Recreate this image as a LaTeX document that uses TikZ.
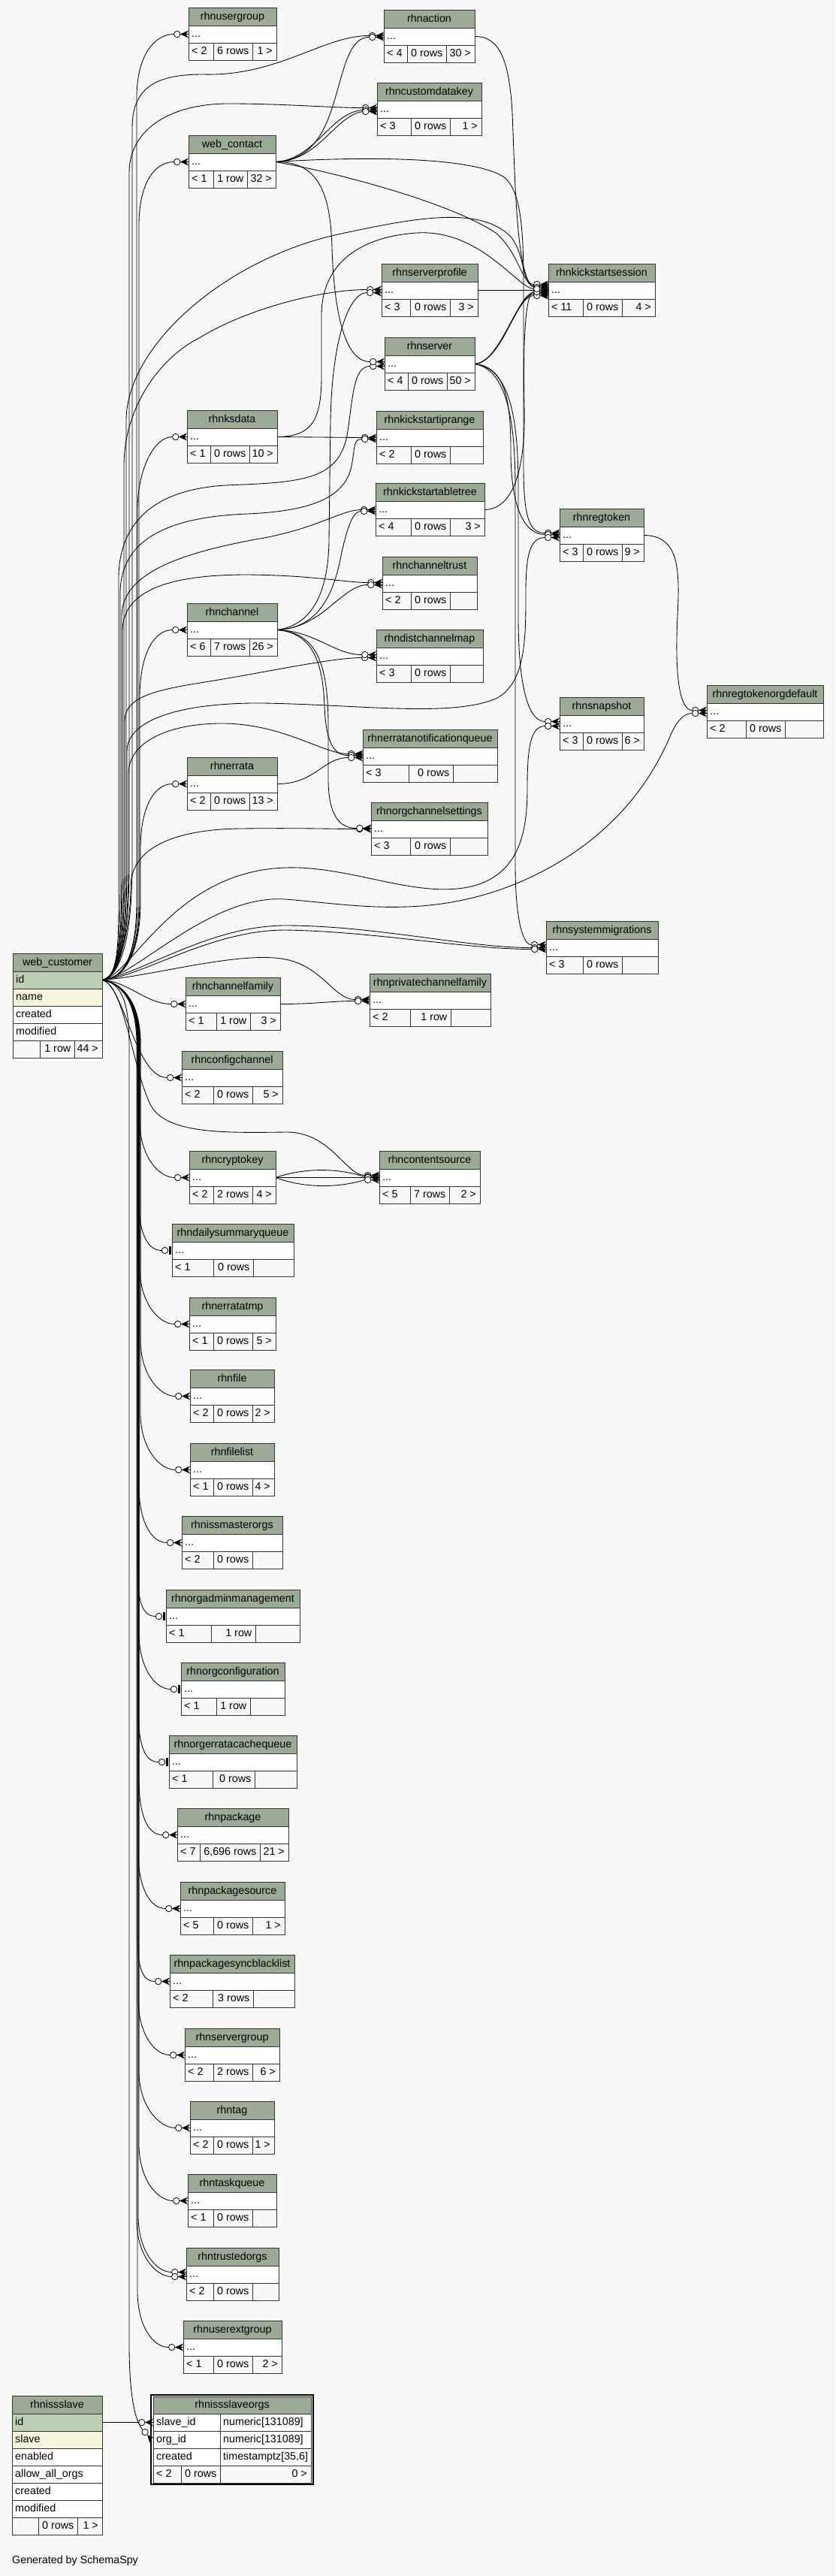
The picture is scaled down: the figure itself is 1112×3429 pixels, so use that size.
\documentclass[tikz,border=0pt]{standalone}
\usepackage{fontspec}
\setmainfont{Liberation Sans}
\definecolor{bgc}{HTML}{F7F7F7}
\definecolor{hdrc}{HTML}{9BAB96}
\definecolor{pkc}{HTML}{BED1B8}
\definecolor{idxc}{HTML}{F5F5DC}
\definecolor{tbc}{HTML}{333333}
\pgfdeclarelayer{back}
\pgfdeclarelayer{edges}
\pgfsetlayers{back,edges,main}
\newcommand\tf{\fontsize{14.3}{16}\selectfont}
\tikzset{
 box/.style={draw=tbc, line width=1pt, inner sep=0pt, outer sep=0pt, anchor=north west},
 txt/.style={inner sep=0pt, font=\tf, text=black},
 fk/.style={draw=black, line width=0.85pt},
}
\def\splitd#1,#2\relax{\def\dA{#1}\def\dB{#2}}
\newcommand\foot[9]{%
 \draw[draw=tbc, line width=1pt, fill=bgc] (#1,#2) rectangle (#3,#2+23);
 \draw[draw=tbc, line width=1pt] (#4,#2) -- (#4,#2+23) (#5,#2) -- (#5,#2+23);
 \node[txt, anchor=base west] (#9-fl) at (#1+4,#2+15.8) {#6};
 \node[txt, anchor=base east] (#9-fm) at (#5-4.5,#2+15.8) {#7};
 \node[txt, anchor=base east] (#9-fr) at (#3-5,#2+15.8) {#8};}
\def\tbl#1#2#3#4#5#6#7#8#9{%
 \splitd#6\relax
 \pgfmathsetmacro\tw{#4-#2}%
 \node[box, fill=hdrc, minimum width=\tw pt, minimum height=24pt] (#1-h) at (#2,#3) {};
 \node[txt, anchor=base] (#1-t) at ([yshift=-4.3pt]#1-h.center) {#5};
 \node[box, fill=white, minimum width=\tw pt, minimum height=23pt] (#1-r) at (#1-h.south west) {};
 \node[txt, anchor=base west] (#1-d) at ([xshift=4pt,yshift=-4.3pt]#1-r.west) {...};
 \foot{#2}{#3+47}{#4}{\dA}{\dB}{#7}{#8}{#9}{#1}}
\newcommand\frow[5]{%
 \node[box, fill=#3, minimum width=#5pt, minimum height=23pt] (#1) at (#2.south west) {};
 \node[txt, anchor=base west] (#1-x) at ([xshift=4pt,yshift=-4.3pt]#1.west) {#4};}
\newcommand\tcell[3]{%
 \node[box, fill=white, minimum width=121pt, minimum height=23pt] (#1) at (#2.north east) {};
 \node[txt, anchor=base west] (#1-x) at ([xshift=4pt,yshift=-4.3pt]#1.west) {#3};}
\newcommand\mk[3]{%
 \coordinate (#1) at ([xshift=-19.5pt,yshift=#3pt]#2.west);
 \begin{scope}[shift={([yshift=#3pt]#2.west)}]
  \fill[black] (-11,0) -- (0,5) -- (-3.5,0) -- (0,-5) -- cycle;
  \draw[black, line width=0.7pt] (-11,0) -- (0,0);
  \draw[black, fill=white, line width=0.8pt] (-15.3,0) circle[radius=4.2pt];
 \end{scope}}
\newcommand\mkt[3]{%
 \coordinate (#1) at ([xshift=-13.7pt,yshift=#3pt]#2.west);
 \begin{scope}[shift={([yshift=#3pt]#2.west)}]
  \fill[black] (-3.8,-5.5) rectangle (-0.6,5.5);
  \draw[black, fill=white, line width=0.8pt] (-9.5,0) circle[radius=4.2pt];
 \end{scope}}
\newcommand\dn[3]{\draw[fk] (wc-id.east) .. controls (160,1308) and (#2,1330) .. (#2,1390) -- (#2,#3-75) .. controls (#2,#3-30) and ([xshift=-22pt]#1) .. (#1);}
\begin{document}
\begin{tikzpicture}[x=1pt,y=-1pt]
\useasboundingbox (0,0) rectangle (1112,3429);
\begin{pgfonlayer}{back}\fill[bgc] (0,0) rectangle (1112,3429);\end{pgfonlayer}

% ---------- tables ----------
\tbl{usergroup}{251}{10}{368}{rhnusergroup}{284,336}{< 2}{6 rows}{1 >}
\tbl{webcontact}{251}{180}{367}{web\_contact}{284,329}{< 1}{1 row}{32 >}
\tbl{action}{511}{13}{632}{rhnaction}{542,594}{< 4}{0 rows}{30 >}
\tbl{customdatakey}{502}{110}{641}{rhncustomdatakey}{547,599}{< 3}{0 rows}{1 >}
\tbl{serverprofile}{508}{351}{636}{rhnserverprofile}{546,599}{< 3}{0 rows}{3 >}
\tbl{kss}{730}{351}{872}{rhnkickstartsession}{776,828}{< 11}{0 rows}{4 >}
\tbl{server}{512}{449}{632}{rhnserver}{543,595}{< 4}{0 rows}{50 >}
\tbl{ksdata}{249}{546}{369}{rhnksdata}{280,332}{< 1}{0 rows}{10 >}
\tbl{ksiprange}{501}{547}{643}{rhnkickstartiprange}{547,599}{< 2}{0 rows}{}
\tbl{kstree}{500}{643}{645}{rhnkickstartabletree}{547,599}{< 4}{0 rows}{3 >}
\tbl{chtrust}{509}{741}{635}{rhnchanneltrust}{547,599}{< 2}{0 rows}{}
\tbl{channel}{249}{803}{369}{rhnchannel}{280,332}{< 6}{7 rows}{26 >}
\tbl{distchmap}{501}{838}{643}{rhndistchannelmap}{547,599}{< 3}{0 rows}{}
\tbl{regtoken}{745}{677}{857}{rhnregtoken}{776,828}{< 3}{0 rows}{9 >}
\tbl{enq}{483}{971}{662}{rhnerratanotificationqueue}{544,603}{< 3}{0 rows}{}
\tbl{errata}{249}{1008}{369}{rhnerrata}{280,332}{< 2}{0 rows}{13 >}
\tbl{orgchset}{494}{1068}{649}{rhnorgchannelsettings}{546,599}{< 3}{0 rows}{}
\tbl{snapshot}{745}{928}{857}{rhnsnapshot}{776,828}{< 3}{0 rows}{6 >}
\tbl{rtod}{941}{912}{1096}{rhnregtokenorgdefault}{993,1045}{< 2}{0 rows}{}
\tbl{sysmig}{727}{1226}{876}{rhnsystemmigrations}{776,828}{< 3}{0 rows}{}
\tbl{chfamily}{247}{1301}{373}{rhnchannelfamily}{288,333}{< 1}{1 row}{3 >}
\tbl{pcf}{492}{1296}{653}{rhnprivatechannelfamily}{546,600}{< 2}{1 row}{}
\tbl{configch}{242}{1399}{376}{rhnconfigchannel}{284,336}{< 2}{0 rows}{5 >}
\tbl{cryptokey}{252}{1532}{367}{rhncryptokey}{284,336}{< 2}{2 rows}{4 >}
\tbl{contentsrc}{505}{1532}{639}{rhncontentsource}{546,598}{< 5}{7 rows}{2 >}
\tbl{dsq}{229}{1629}{391}{rhndailysummaryqueue}{284,337}{< 1}{0 rows}{}
\tbl{erratatmp}{252}{1727}{367}{rhnerratatmp}{284,336}{< 1}{0 rows}{5 >}
\tbl{file}{253}{1823}{365}{rhnfile}{284,336}{< 2}{0 rows}{2 >}
\tbl{filelist}{253}{1921}{365}{rhnfilelist}{284,336}{< 1}{0 rows}{4 >}
\tbl{issmaster}{242}{2018}{376}{rhnissmasterorgs}{284,336}{< 2}{0 rows}{}
\tbl{orgadmin}{221}{2116}{399}{rhnorgadminmanagement}{281,340}{< 1}{1 row}{}
\tbl{orgconf}{241}{2213}{379}{rhnorgconfiguration}{288,333}{< 1}{1 row}{}
\tbl{oecq}{225}{2310}{395}{rhnorgerratacachequeue}{283,339}{< 1}{0 rows}{}
\tbl{package}{236}{2407}{384}{rhnpackage}{266,346}{< 7}{6,696 rows}{21 >}
\tbl{pkgsrc}{240}{2505}{379}{rhnpackagesource}{284,336}{< 5}{0 rows}{1 >}
\tbl{pkgsbl}{226}{2602}{392}{rhnpackagesyncblacklist}{283,337}{< 2}{3 rows}{}
\tbl{sgroup}{246}{2700}{372}{rhnservergroup}{284,336}{< 2}{2 rows}{6 >}
\tbl{tag}{253}{2797}{365}{rhntag}{284,336}{< 2}{0 rows}{1 >}
\tbl{taskq}{250}{2894}{368}{rhntaskqueue}{284,336}{< 1}{0 rows}{}
\tbl{trusted}{248}{2992}{371}{rhntrustedorgs}{284,336}{< 2}{0 rows}{}
\tbl{userext}{244}{3089}{375}{rhnuserextgroup}{284,336}{< 1}{0 rows}{2 >}

% web_customer
\node[box, fill=hdrc, minimum width=119pt, minimum height=24pt] (wc-h) at (17,1269) {};
\node[txt, anchor=base] (wc-t) at ([yshift=-4.3pt]wc-h.center) {web\_customer};
\frow{wc-id}{wc-h}{pkc}{id}{119}
\frow{wc-name}{wc-id}{idxc}{name}{119}
\frow{wc-created}{wc-name}{white}{created}{119}
\frow{wc-modified}{wc-created}{white}{modified}{119}
\foot{17}{1385}{136}{53}{99}{}{1 row}{44 >}{wc}

% rhnissslave
\node[box, fill=hdrc, minimum width=120pt, minimum height=24pt] (sl-h) at (16,3189) {};
\node[txt, anchor=base] (sl-t) at ([yshift=-4.3pt]sl-h.center) {rhnissslave};
\frow{sl-id}{sl-h}{pkc}{id}{120}
\frow{sl-slave}{sl-id}{idxc}{slave}{120}
\frow{sl-enabled}{sl-slave}{white}{enabled}{120}
\frow{sl-allow}{sl-enabled}{white}{allow\_all\_orgs}{120}
\frow{sl-created}{sl-allow}{white}{created}{120}
\frow{sl-modified}{sl-created}{white}{modified}{120}
\foot{16}{3351}{136}{51}{103}{}{0 rows}{1 >}{sl}

% rhnissslaveorgs
\draw[draw=black, line width=2pt] (201.3,3187.6) rectangle (416.5,3306.5);
\node[box, fill=hdrc, minimum width=210pt, minimum height=23pt] (so-h) at (204,3190) {};
\node[txt, anchor=base] (so-t) at ([yshift=-4.3pt]so-h.center) {rhnissslaveorgs};
\node[box, fill=white, minimum width=89pt, minimum height=23pt] (so-slave) at (so-h.south west) {};
\node[txt, anchor=base west] (so-slave-x) at ([xshift=4pt,yshift=-4.3pt]so-slave.west) {slave\_id};
\tcell{so-slave-ty}{so-slave}{numeric[131089]}
\frow{so-org}{so-slave}{white}{org\_id}{89}
\tcell{so-org-ty}{so-org}{numeric[131089]}
\frow{so-created}{so-org}{white}{created}{89}
\tcell{so-created-ty}{so-created}{timestamptz[35,6]}
\foot{204}{3282}{414}{241}{293}{< 2}{0 rows}{0 >}{so}

\node[txt, anchor=base west] (gen) at (16,3412) {Generated by SchemaSpy};

% ---------- markers ----------
\mk{usergroup-a}{usergroup-r}{0}
\mk{webcontact-a}{webcontact-r}{0}
\mk{action-a}{action-r}{1}
\mk{action-b}{action-r}{-1}
\mk{customdatakey-a}{customdatakey-r}{2}
\mk{customdatakey-b}{customdatakey-r}{-1}
\mk{customdatakey-c}{customdatakey-r}{-3}
\mk{serverprofile-a}{serverprofile-r}{1}
\mk{serverprofile-b}{serverprofile-r}{-3}
\mk{kss-a}{kss-r}{6}
\mk{kss-b}{kss-r}{8}
\mk{kss-c}{kss-r}{4}
\mk{kss-d}{kss-r}{0}
\mk{kss-e}{kss-r}{-3}
\mk{kss-f}{kss-r}{-5}
\mk{kss-g}{kss-r}{-7}
\mk{kss-h}{kss-r}{-2}
\mk{kss-i}{kss-r}{2}
\mk{server-a}{server-r}{-3}
\mk{server-b}{server-r}{3}
\mk{ksdata-a}{ksdata-r}{0}
\mk{ksiprange-a}{ksiprange-r}{0}
\mk{ksiprange-b}{ksiprange-r}{-2}
\mk{kstree-a}{kstree-r}{0}
\mk{kstree-b}{kstree-r}{-2}
\mk{chtrust-a}{chtrust-r}{1}
\mk{chtrust-b}{chtrust-r}{-2}
\mk{channel-a}{channel-r}{0}
\mk{distchmap-a}{distchmap-r}{-2}
\mk{distchmap-b}{distchmap-r}{2}
\mk{regtoken-a}{regtoken-r}{3}
\mk{regtoken-b}{regtoken-r}{1}
\mk{regtoken-c}{regtoken-r}{-3}
\mk{enq-a}{enq-r}{3}
\mk{enq-b}{enq-r}{1}
\mk{enq-c}{enq-r}{-2}
\mk{errata-a}{errata-r}{0}
\mk{orgchset-a}{orgchset-r}{0}
\mk{orgchset-b}{orgchset-r}{1}
\mk{snapshot-a}{snapshot-r}{3}
\mk{snapshot-b}{snapshot-r}{-3}
\mk{rtod-a}{rtod-r}{2}
\mk{rtod-b}{rtod-r}{-2}
\mk{sysmig-a}{sysmig-r}{4}
\mk{sysmig-b}{sysmig-r}{0}
\mk{sysmig-c}{sysmig-r}{-2}
\mk{chfamily-a}{chfamily-r}{0}
\mk{pcf-a}{pcf-r}{1}
\mk{pcf-b}{pcf-r}{-1}
\mk{configch-a}{configch-r}{0}
\mk{cryptokey-a}{cryptokey-r}{0}
\mk{contentsrc-a}{contentsrc-r}{3}
\mk{contentsrc-b}{contentsrc-r}{1}
\mk{contentsrc-c}{contentsrc-r}{0}
\mk{contentsrc-d}{contentsrc-r}{-3}
\mkt{dsq-a}{dsq-r}{0}
\mk{erratatmp-a}{erratatmp-r}{0}
\mk{file-a}{file-r}{0}
\mk{filelist-a}{filelist-r}{0}
\mk{issmaster-a}{issmaster-r}{0}
\mkt{orgadmin-a}{orgadmin-r}{0}
\mkt{orgconf-a}{orgconf-r}{0}
\mkt{oecq-a}{oecq-r}{0}
\mk{package-a}{package-r}{0}
\mk{pkgsrc-a}{pkgsrc-r}{0}
\mk{pkgsbl-a}{pkgsbl-r}{0}
\mk{sgroup-a}{sgroup-r}{0}
\mk{tag-a}{tag-r}{0}
\mk{taskq-a}{taskq-r}{0}
\mk{trusted-a}{trusted-r}{3}
\mk{trusted-b}{trusted-r}{-3}
\mk{userext-a}{userext-r}{0}
\mk{so-sa}{so-slave}{0}
\coordinate (so-oa) at (189.5,3234);
\fill[black] (196,3241) -- (205,3245) -- (200.5,3245.5) -- (199.5,3252) -- cycle;
\draw[black, fill=white, line width=0.8pt] (193,3237.5) circle[radius=4.2pt];

% ---------- edges ----------
\begin{pgfonlayer}{edges}
% web_customer going up
\draw[fk] (wc-id.east) .. controls (165,1304) and (182,1270) .. (182,1200) -- (182,130) .. controls (182,75) and (205,45.5) .. (usergroup-a);
\draw[fk] (wc-id.east) .. controls (165,1304) and (185,1270) .. (185,1200) -- (185,300) .. controls (185,245) and (205,215.5) .. (webcontact-a);
\draw[fk] (wc-id.east) .. controls (160,1300) and (176,1250) .. (176,1150) -- (176,170) .. controls (176,115) and (210,99) .. (270,99) .. controls (370,102) and (430,47.5) .. (action-a);
\draw[fk] (wc-id.east) .. controls (160,1300) and (172,1250) .. (172,1150) -- (172,230) .. controls (172,170) and (230,138) .. (304,138) .. controls (380,138) and (440,143.5) .. (customdatakey-a);
\draw[fk] (wc-id.east) .. controls (160,1300) and (165,1250) .. (165,1150) -- (165,620) .. controls (165,540) and (215,475) .. (265,450) .. controls (330,410) and (430,385.5) .. (serverprofile-a);
\draw[fk] (wc-id.east) .. controls (160,1300) and (168,1250) .. (168,1150) -- (168,560) .. controls (168,460) and (300,345) .. (450,312) .. controls (560,288) and (640,275) .. (680,315) .. controls (700,340) and (695,380.5) .. (kss-a);
\draw[fk] (wc-id.east) .. controls (160,1300) and (158,1250) .. (158,1150) -- (158,770) .. controls (158,700) and (200,652) .. (300,646) .. controls (400,642) and (450,640) .. (462,580) .. controls (470,530) and (470,487.5) .. (server-a);
\draw[fk] (wc-id.east) .. controls (165,1304) and (183,1270) .. (183,1200) -- (183,680) .. controls (183,625) and (205,581.5) .. (ksdata-a);
\draw[fk] (wc-id.east) .. controls (160,1300) and (160,1250) .. (160,1150) -- (160,790) .. controls (160,720) and (220,688) .. (330,684) .. controls (420,680) and (460,660) .. (468,620) .. controls (473,595) and (470,584.5) .. (ksiprange-b);
\draw[fk] (wc-id.east) .. controls (160,1300) and (162,1250) .. (162,1150) -- (162,820) .. controls (162,760) and (250,735) .. (340,718) .. controls (420,705) and (455,678.5) .. (kstree-a);
\draw[fk] (wc-id.east) .. controls (160,1300) and (163,1250) .. (163,1150) -- (163,840) .. controls (163,780) and (240,765) .. (330,765) .. controls (420,766) and (460,775.5) .. (chtrust-a);
\draw[fk] (wc-id.east) .. controls (165,1304) and (186,1270) .. (186,1200) -- (186,930) .. controls (186,870) and (205,838.5) .. (channel-a);
\draw[fk] (wc-id.east) .. controls (160,1300) and (166,1250) .. (166,1150) -- (166,960) .. controls (166,930) and (200,920) .. (260,910) .. controls (350,896) and (440,875.5) .. (distchmap-a);
\draw[fk] (wc-id.east) .. controls (160,1300) and (169,1250) .. (169,1150) -- (169,1000) .. controls (169,955) and (250,935) .. (350,936) .. controls (480,938) and (600,955) .. (660,930) .. controls (700,910) and (700,850) .. (700,790) .. controls (700,740) and (705,715.5) .. (regtoken-c);
\draw[fk] (wc-id.east) .. controls (160,1300) and (171,1250) .. (171,1150) -- (171,1030) .. controls (171,985) and (230,962) .. (300,963) .. controls (380,965) and (430,1003.5) .. (enq-a);
\draw[fk] (wc-id.east) .. controls (165,1304) and (187,1270) .. (187,1200) -- (187,1130) .. controls (187,1075) and (205,1043.5) .. (errata-a);
\draw[fk] (wc-id.east) .. controls (160,1300) and (174,1230) .. (174,1180) .. controls (174,1130) and (230,1104) .. (320,1103) .. controls (400,1102) and (440,1103.5) .. (orgchset-a);
\draw[fk] (wc-id.east) .. controls (175,1300) and (230,1160) .. (380,1155) .. controls (470,1152) and (560,1200) .. (635,1178) .. controls (690,1160) and (702,1110) .. (702,1050) .. controls (702,1000) and (705,966.5) .. (snapshot-b);
\draw[fk] (wc-id.east) .. controls (180,1300) and (280,1190) .. (380,1197) .. controls (470,1204) and (570,1225) .. (690,1175) .. controls (820,1120) and (870,1030) .. (890,985) .. controls (900,960) and (910,949.5) .. (rtod-b);
\draw[fk] (wc-id.east) .. controls (190,1295) and (280,1232) .. (380,1232) .. controls (500,1232) and (620,1261.5) .. (sysmig-b);
\draw[fk] (wc-id.east) .. controls (190,1300) and (280,1238) .. (380,1238) .. controls (500,1240) and (620,1263.5) .. (sysmig-c);
\draw[fk] (wc-id.east) .. controls (200,1300) and (320,1265) .. (380,1277) .. controls (430,1287) and (445,1330.5) .. (pcf-a);
\draw[fk] (wc-id.east) .. controls (170,1306) and (195,1336.5) .. (chfamily-a);
\draw[fk] (wc-id.east) .. controls (165,1310) and (180,1434.5) .. (configch-a);
\draw[fk] (wc-id.east) .. controls (165,1310) and (176,1420) .. (200,1470) .. controls (220,1510) and (300,1508) .. (380,1507) .. controls (440,1506) and (460,1564.5) .. (contentsrc-a);
% web_customer going down
\dn{cryptokey-a}{186}{1567.5}
\dn{dsq-a}{184}{1664.5}
\dn{erratatmp-a}{186}{1762.5}
\dn{file-a}{187}{1858.5}
\dn{filelist-a}{187}{1956.5}
\dn{issmaster-a}{185}{2053.5}
\dn{orgadmin-a}{183}{2151.5}
\dn{orgconf-a}{185}{2248.5}
\dn{oecq-a}{184}{2345.5}
\dn{package-a}{185}{2442.5}
\dn{pkgsrc-a}{184}{2540.5}
\dn{pkgsbl-a}{183}{2637.5}
\dn{sgroup-a}{184}{2735.5}
\dn{tag-a}{185}{2832.5}
\dn{taskq-a}{185}{2929.5}
\dn{trusted-a}{184}{3024.5}
\dn{trusted-b}{182}{3030.5}
\dn{userext-a}{183}{3124.5}
\draw[fk] (wc-id.east) .. controls (160,1308) and (172,1330) .. (172,1390) -- (172,3120) .. controls (172,3190) and (180,3222) .. (so-oa);
\draw[fk] (sl-id.east) -- (so-sa);
% web_contact
\draw[fk] (webcontact-r.east) .. controls (430,212) and (440,150) .. (455,100) .. controls (465,65) and (475,49.5) .. (action-b);
\draw[fk] (webcontact-r.east) .. controls (420,212) and (440,150) .. (customdatakey-b);
\draw[fk] (webcontact-r.east) .. controls (425,214) and (445,155) .. (customdatakey-c);
\draw[fk] (webcontact-r.east) .. controls (450,230) and (600,270) .. (660,310) .. controls (690,335) and (695,378.5) .. (kss-b);
\draw[fk] (webcontact-r.east) .. controls (420,215) and (440,250) .. (442,330) .. controls (445,420) and (460,481.5) .. (server-b);
\draw[fk] (webcontact-r.east) .. controls (450,210) and (620,205) .. (670,235) .. controls (697,255) and (697,320) .. (697,400) -- (697,620) .. controls (697,690) and (705,709.5) .. (regtoken-a);
% others
\draw[fk] (action-r.east) .. controls (665,48) and (678,80) .. (682,150) .. controls (686,250) and (688,370) .. (kss-c);
\draw[fk] (serverprofile-r.east) -- (kss-d);
\draw[fk] (server-r.east) .. controls (665,484) and (690,389.5) .. (kss-e);
\draw[fk] (server-r.east) .. controls (668,482) and (688,391.5) .. (kss-f);
\draw[fk] (server-r.east) .. controls (670,480) and (686,393.5) .. (kss-g);
\draw[fk] (server-r.east) .. controls (675,488) and (680,540) .. (680,600) .. controls (680,680) and (700,711.5) .. (regtoken-b);
\draw[fk] (server-r.east) .. controls (680,490) and (690,560) .. (690,650) -- (690,820) .. controls (690,920) and (705,960.5) .. (snapshot-a);
\draw[fk] (server-r.east) .. controls (675,492) and (686,560) .. (686,650) -- (686,1150) .. controls (686,1220) and (695,1257.5) .. (sysmig-a);
\draw[fk] (ksdata-r.east) -- (ksiprange-a);
\draw[fk] (ksdata-r.east) .. controls (415,581) and (428,560) .. (428,500) -- (428,420) .. controls (428,350) and (480,315) .. (555,310) .. controls (640,305) and (690,384.5) .. (kss-i);
\draw[fk] (kstree-r.east) .. controls (685,678) and (700,620) .. (698,540) .. controls (696,450) and (700,388.5) .. (kss-h);
\draw[fk] (channel-r.east) .. controls (415,832) and (437,790) .. (438,720) -- (440,560) .. controls (442,450) and (465,389.5) .. (serverprofile-b);
\draw[fk] (channel-r.east) .. controls (425,836) and (445,790) .. (455,735) .. controls (463,700) and (470,680.5) .. (kstree-b);
\draw[fk] (channel-r.east) .. controls (430,836) and (455,778.5) .. (chtrust-b);
\draw[fk] (channel-r.east) .. controls (420,840) and (445,871.5) .. (distchmap-b);
\draw[fk] (channel-r.east) .. controls (415,842) and (430,880) .. (432,940) .. controls (434,990) and (445,1005.5) .. (enq-b);
\draw[fk] (channel-r.east) .. controls (420,842) and (436,880) .. (437,960) -- (437,1040) .. controls (438,1090) and (455,1102.5) .. (orgchset-b);
\draw[fk] (errata-r.east) .. controls (420,1043.5) and (430,1008.5) .. (enq-c);
\draw[fk] (regtoken-r.east) .. controls (905,712.5) and (905,760) .. (902,820) .. controls (898,900) and (905,945.5) .. (rtod-a);
\draw[fk] (chfamily-r.east) .. controls (420,1336.5) and (440,1332.5) .. (pcf-b);
\draw[fk] (cryptokey-r.east) .. controls (400,1556) and (445,1553) .. (contentsrc-b);
\draw[fk] (cryptokey-r.east) -- (contentsrc-c);
\draw[fk] (cryptokey-r.east) .. controls (400,1580) and (445,1583) .. (contentsrc-d);
\end{pgfonlayer}
\end{tikzpicture}
\end{document}
